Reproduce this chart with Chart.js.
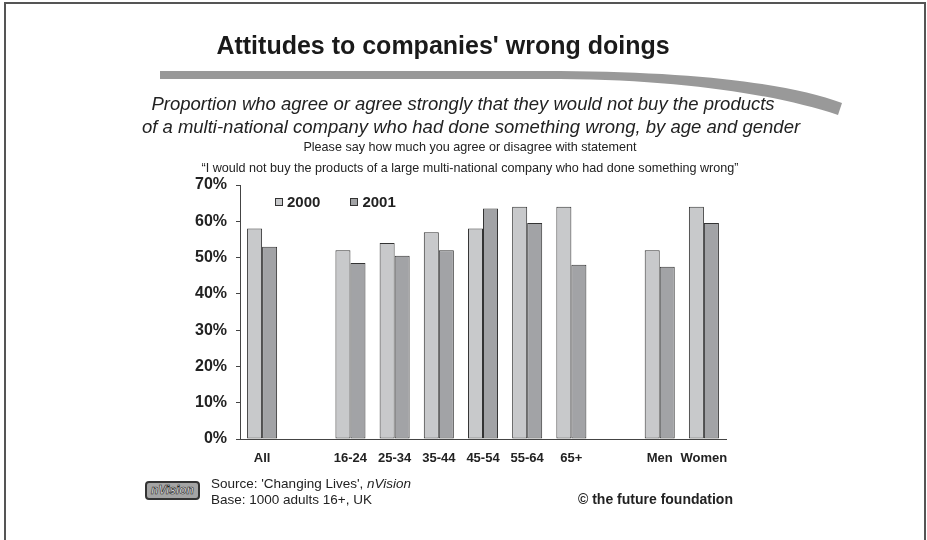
<!DOCTYPE html>
<html>
<head>
<meta charset="utf-8">
<script src="https://cdn.jsdelivr.net/npm/chart.js@4.4.1/dist/chart.umd.min.js"></script>
<style>
  body { margin: 0; background: #fff; font-family: "Liberation Sans", Arial, sans-serif; color: #222; }
  #wrap { position: relative; width: 927px; height: 540px; overflow: hidden; }
  #chart { position: absolute; left: 0; top: 0; }
  #frame { position: absolute; left: 4px; top: 2px; width: 922px; height: 600px; border: 2px solid #555; box-sizing: border-box; }
  .txt { position: absolute; white-space: nowrap; line-height: 1; }
  .center { width: 900px; text-align: center; }
  #title { left: -7px; top: 33px; font-size: 25px; font-weight: bold; color: #1a1a1a; }
  .sub { font-size: 18.5px; font-style: italic; }
  .small { font-size: 12.6px; }
  #legend { position: absolute; left: 275px; top: 193px; font-size: 15px; font-weight: bold; }
  #legend span.box { display: inline-block; width: 6px; height: 6px; border: 1px solid #333; vertical-align: 1px; margin-right: 4px; }
  #legend span.item { margin-right: 30px; }
  #logo { position: absolute; left: 145px; top: 481px; width: 55px; height: 19px; border: 2px solid #333; border-radius: 4px;
          background: #a4a4a4; box-sizing: border-box; font-size: 12px; font-style: italic; font-weight: bold; color: #eee;
          text-align: center; line-height: 15px; -webkit-text-stroke: 0.6px #222; }
  .foot { font-size: 13.5px; }
</style>
</head>
<body>
<div id="wrap">
  <canvas id="chart" width="927" height="540"></canvas>
  <svg width="927" height="540" style="position:absolute;left:0;top:0">
    <path d="M160,71 L560,71 C700,72 790,84 842,103 L838,115 C780,96 690,80 560,79 L160,79 Z" fill="#999"/>
  </svg>
  <div id="title" class="txt center">Attitudes to companies' wrong doings</div>
  <div class="txt center sub" style="left:13px;top:95px;">Proportion who agree or agree strongly that they would not buy the products</div>
  <div class="txt center sub" style="left:21px;top:118px;">of a multi-national company who had done something wrong, by age and gender</div>
  <div class="txt center small" style="left:20px;top:141px;">Please say how much you agree or disagree with statement</div>
  <div class="txt center small" style="left:20px;top:162px;">“I would not buy the products of a large multi-national company who had done something wrong”</div>
  <div id="legend"></div>
  <div id="logo">nVision</div>
  <div class="txt foot" style="left:211px;top:477px;">Source: 'Changing Lives', <i>nVision</i></div>
  <div class="txt foot" style="left:211px;top:493px;">Base: 1000 adults 16+, UK</div>
  <div class="txt" style="left:578px;top:492px;font-size:14px;font-weight:bold;">© the future foundation</div>
  <div id="frame"></div>
</div>
<script>
// categories, with two empty slots for the gaps in the original
var categories = ['All', '', '16-24', '25-34', '35-44', '45-54', '55-64', '65+', '', 'Men', 'Women'];
var seriesNames = ['2000', '2001'];
var values2000 = [58, null, 52, 54, 57, 58, 64, 64, null, 52, 64];
var values2001 = [53, null, 48.5, 50.5, 52, 63.5, 59.5, 48, null, 47.5, 59.5];
var yTicks = [0, 10, 20, 30, 40, 50, 60, 70];

var colors = ['#c8c9cb', '#a2a3a6'];

var legend = document.getElementById('legend');
seriesNames.forEach(function(name, i) {
  legend.innerHTML += '<span class="item"><span class="box" style="background:' + colors[i] + '"></span>' + name + '</span>';
});

var font = '"Liberation Sans", Arial, sans-serif';
var ctx = document.getElementById('chart');
new Chart(ctx, {
  type: 'bar',
  data: {
    labels: categories,
    datasets: [
      { label: seriesNames[0], data: values2000, backgroundColor: colors[0], borderColor: '#333', borderWidth: 1, borderSkipped: false },
      { label: seriesNames[1], data: values2001, backgroundColor: colors[1], borderColor: '#333', borderWidth: 1, borderSkipped: false }
    ]
  },
  options: {
    responsive: false,
    animation: false,
    layout: { padding: { left: 0, top: 185, right: 201, bottom: 61 } },
    datasets: { bar: { categoryPercentage: 0.68, barPercentage: 1 } },
    plugins: { legend: { display: false }, tooltip: { enabled: false } },
    scales: {
      x: {
        grid: { display: false, drawTicks: false },
        border: { color: '#444', width: 1 },
        ticks: { padding: 12, color: '#222', autoSkip: false, maxRotation: 0, font: { family: font, size: 13, weight: 'bold' } },
        afterFit: function(s) { s.height = 40; }
      },
      y: {
        min: 0,
        max: 70,
        afterBuildTicks: function(s) { s.ticks = yTicks.map(function(v) { return { value: v }; }); },
        ticks: { padding: 9, color: '#222', callback: function(v) { return v + '%'; }, font: { family: font, size: 16, weight: 'bold' } },
        grid: { drawOnChartArea: false, drawTicks: true, tickLength: 4, color: '#444' },
        border: { color: '#444', width: 1 },
        afterFit: function(s) { s.width = 240; }
      }
    }
  }
});
</script>
</body>
</html>
